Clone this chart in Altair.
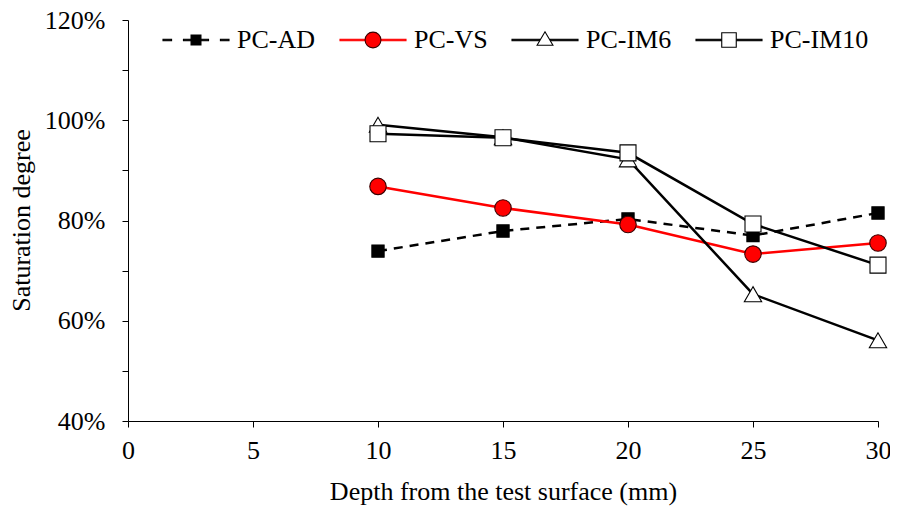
import altair as alt
import pandas as pd

# ---------------- data ----------------
depth = [10, 15, 20, 25, 30]
series = ["PC-AD", "PC-VS", "PC-IM6", "PC-IM10"]
pc_ad = [73.9, 77.9, 80.3, 77.0, 81.5]
pc_vs = [86.8, 82.5, 79.2, 73.3, 75.5]
pc_im6 = [99.1, 96.6, 92.2, 65.3, 56.1]
pc_im10 = [97.3, 96.5, 93.5, 79.3, 71.1]
values = [pc_ad, pc_vs, pc_im6, pc_im10]

x_ticks = [0, 5, 10, 15, 20, 25, 30]
y_ticks = [40, 50, 60, 70, 80, 90, 100, 110, 120]

FONT = "Liberation Serif"
FS = 26

# ---------------- styles ----------------
line_color = ["#000000", "#FF0000", "#000000", "#000000"]
line_dash = [[9, 7], None, None, None]
pt_shape = ["square", "circle", "triangle-up", "square"]
pt_fill = ["#000000", "#FF0000", "#FFFFFF", "#FFFFFF"]
pt_stroke = ["#000000", "#3a0000", "#000000", "#000000"]
pt_size = [150, 272, 300, 256]


def seg(x0, x1, h=0.021):
    return f"M{x0},{-h}H{x1}V{h}H{x0}Z"


# legend symbol paths (unit box -1..1 = 66 px); lines drawn as thin bars
leg_line_paths = [
    seg(-1, -0.74) + seg(-0.38, 0.38) + seg(0.74, 1),
    seg(-1, -0.24) + seg(0.24, 1),
    seg(-1, -0.15) + seg(0.15, 1),
    seg(-1, -0.22) + seg(0.22, 1),
]
ext = "M-1,0L-1,0M1,0L1,0"
leg_marker_paths = [
    ext + "M-0.15,-0.15H0.15V0.15H-0.15Z",
    ext + "M0.24,0A0.24,0.24 0 1,1 -0.24,0A0.24,0.24 0 1,1 0.24,0Z",
    ext + "M-0.24,0.16L0,-0.25L0.24,0.16Z",
    ext + "M-0.22,-0.22H0.22V0.22H-0.22Z",
]

x_axis = alt.Axis(values=x_ticks, tickSize=6, labelPadding=10, labelFlush=False,
                  title="Depth from the test surface (mm)",
                  titleY=78, titleBaseline="alphabetic")
y_axis = alt.Axis(values=y_ticks, tickSize=6, labelPadding=17, labelFlush=False,
                  labelExpr="datum.value % 20 == 0 ? datum.value + '%' : ''",
                  title="Saturation degree", titleAngle=270,
                  titleX=-99, titleY=200, titleAlign="center",
                  titleBaseline="alphabetic")

x_enc = alt.X("depth:Q", scale=alt.Scale(domain=[0, 30], nice=False), axis=x_axis)
y_enc = alt.Y("value:Q", scale=alt.Scale(domain=[40, 120], nice=False), axis=y_axis)

layers = []
for i, name in enumerate(series):
    df = pd.DataFrame({"depth": depth, "value": values[i], "series": name})
    lkw = dict(color=line_color[i], strokeWidth=2.5)
    if line_dash[i] is not None:
        lkw["strokeDash"] = line_dash[i]
    layers.append(alt.Chart(df).mark_line(**lkw).encode(x=x_enc, y=y_enc))
    layers.append(
        alt.Chart(df).mark_point(shape=pt_shape[i], filled=True, fill=pt_fill[i],
                                 stroke=pt_stroke[i], strokeWidth=1.1,
                                 size=pt_size[i], opacity=1)
        .encode(x=x_enc, y=y_enc)
    )

leg_common = dict(orient="none", legendX=34, legendY=-14, direction="horizontal",
                  columns=4, symbolSize=4356, labelFont=FONT, labelFontSize=FS,
                  labelOffset=7, columnPadding=21, title=None, padding=0,
                  symbolOpacity=1, labelLimit=300, symbolStrokeWidth=1.1)

leg_df = pd.DataFrame({"la": series, "lb": series})

leg_a = alt.Legend(**leg_common, labelColor="transparent")
legend_lines = (
    alt.Chart(leg_df).mark_point(filled=True, opacity=1, strokeWidth=1.1)
    .encode(
        shape=alt.Shape("la:N", scale=alt.Scale(domain=series, range=leg_line_paths),
                        legend=leg_a),
        fill=alt.Fill("la:N", scale=alt.Scale(domain=series, range=line_color),
                      legend=leg_a),
        stroke=alt.Stroke("la:N", scale=alt.Scale(domain=series, range=line_color),
                          legend=leg_a),
    )
    .transform_filter("false")
)

leg_b = alt.Legend(**leg_common, labelColor="black")
legend_markers = (
    alt.Chart(leg_df).mark_point(filled=True, opacity=1, strokeWidth=1.1)
    .encode(
        shape=alt.Shape("lb:N", scale=alt.Scale(domain=series, range=leg_marker_paths),
                        legend=leg_b),
        fill=alt.Fill("lb:N", scale=alt.Scale(domain=series, range=pt_fill),
                      legend=leg_b),
        stroke=alt.Stroke("lb:N", scale=alt.Scale(domain=series, range=pt_stroke),
                          legend=leg_b),
    )
    .transform_filter("false")
)

chart = (
    alt.layer(*layers, legend_lines, legend_markers)
    .resolve_scale(shape="independent", stroke="independent", fill="independent")
    .resolve_legend(shape="independent", stroke="independent", fill="independent")
    .properties(width=750, height=401,
                autosize=alt.AutoSizeParams(type="none"),
                padding={"left": 120, "top": 12, "right": 12, "bottom": 87})
    .configure_view(stroke=None)
    .configure_axis(grid=False, labelFont=FONT, labelFontSize=FS, titleFont=FONT,
                    titleFontSize=FS, titleFontWeight="normal", labelColor="black",
                    titleColor="black", domainColor="black", tickColor="black",
                    domainWidth=1, tickWidth=1)
)

chart.save("out.html", embed_options={"renderer": "svg", "actions": False})
